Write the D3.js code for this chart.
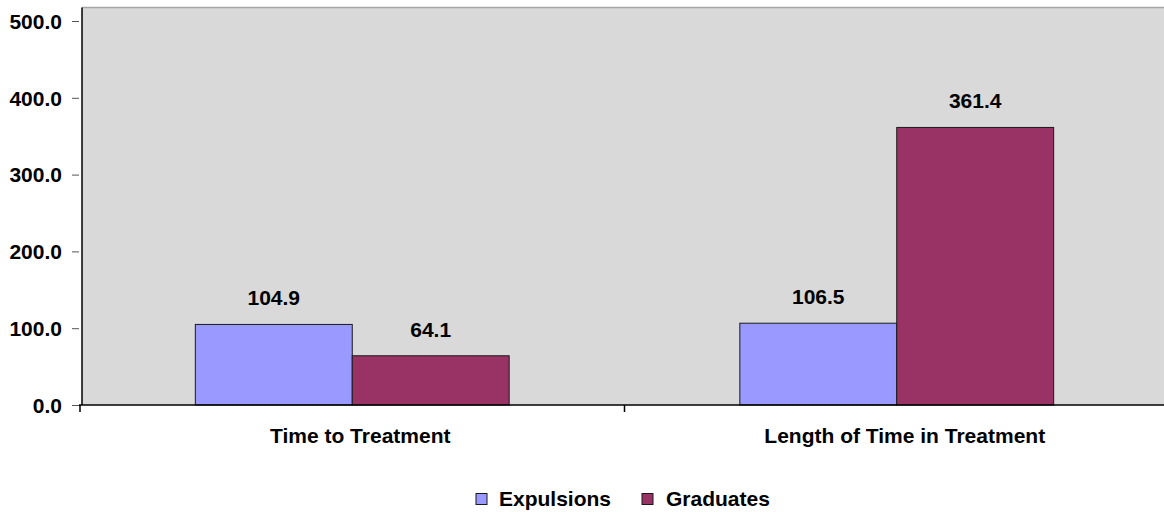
<!DOCTYPE html>
<html>
<head>
<meta charset="utf-8">
<script src="https://cdn.jsdelivr.net/npm/d3@7"></script>
<style>
  html, body { margin: 0; padding: 0; background: #fff; }
  svg { display: block; }
  text { font-family: Arial, "Liberation Sans", sans-serif; font-weight: bold; fill: #000; }
</style>
</head>
<body>
<svg id="chart" width="1164" height="512"></svg>
<script>
const categories = ["Time to Treatment", "Length of Time in Treatment"];
const seriesNames = ["Expulsions", "Graduates"];
const expulsions = [104.9, 106.5];
const graduates = [64.1, 361.4];
const yTicks = [0, 100, 200, 300, 400, 500];
const colors = ["#9999FF", "#993366"];

const data = categories.map((c, i) => ({
  category: c,
  values: [
    { series: seriesNames[0], value: expulsions[i] },
    { series: seriesNames[1], value: graduates[i] }
  ]
}));

const svg = d3.select("#chart");
const W = 1164, H = 512;
const plotLeft = 82, plotTop = 7.5, axisBottom = 405;
const fontSize = 21;

const x = d3.scaleBand().domain(categories).range([80, 1169]).paddingInner(0).paddingOuter(0);
const xs = d3.scaleBand().domain(seriesNames).range([0, x.bandwidth()]).paddingInner(0).paddingOuter(0.735);
const y = d3.scaleLinear().domain([0, 500]).range([axisBottom, 21]);
const color = d3.scaleOrdinal().domain(seriesNames).range(colors);

// plot background
svg.append("rect")
  .attr("x", plotLeft).attr("y", plotTop)
  .attr("width", W - plotLeft + 10).attr("height", axisBottom - plotTop)
  .attr("fill", "#D9D9D9");
svg.append("line")
  .attr("x1", plotLeft).attr("x2", W).attr("y1", plotTop).attr("y2", plotTop)
  .attr("stroke", "#A6A6A6").attr("stroke-width", 1.5);

// bars
const groups = svg.append("g").selectAll("g").data(data).join("g")
  .attr("transform", d => `translate(${x(d.category)},0)`);

groups.selectAll("rect").data(d => d.values).join("rect")
  .attr("x", d => xs(d.series))
  .attr("y", d => y(d.value))
  .attr("width", xs.bandwidth())
  .attr("height", d => y(0) - y(d.value))
  .attr("fill", d => color(d.series))
  .attr("stroke", "#1a1a1a").attr("stroke-width", 1);

groups.selectAll("text.val").data(d => d.values).join("text")
  .attr("class", "val")
  .attr("x", d => xs(d.series) + xs.bandwidth() / 2)
  .attr("y", d => y(d.value) - 19)
  .attr("text-anchor", "middle")
  .attr("font-size", fontSize)
  .text(d => d.value.toFixed(1));

// y axis
const yAxis = d3.axisLeft(y).tickValues(yTicks).tickSize(7).tickPadding(10)
  .tickFormat(d => d3.format(".1f")(d));
const gy = svg.append("g").attr("transform", "translate(79,0)").call(yAxis);
gy.select(".domain").remove();
gy.selectAll(".tick line").attr("stroke", "#555");
gy.selectAll(".tick text").attr("font-size", fontSize).attr("dy", "0.35em")
  .style("font-family", "Arial, 'Liberation Sans', sans-serif").style("font-weight", "bold").attr("fill", "#000");

// left border of the plot area
svg.append("line")
  .attr("x1", plotLeft).attr("x2", plotLeft).attr("y1", plotTop).attr("y2", axisBottom)
  .attr("stroke", "#000").attr("stroke-width", 1.5);

// x axis line and category separators
svg.append("line")
  .attr("x1", 79).attr("x2", W).attr("y1", axisBottom).attr("y2", axisBottom)
  .attr("stroke", "#000").attr("stroke-width", 1.5);
const sepX = [x.range()[0]].concat(categories.map(c => x(c) + x.bandwidth()));
svg.append("g").selectAll("line").data(sepX).join("line")
  .attr("x1", d => Math.max(d, 79)).attr("x2", d => Math.max(d, 79))
  .attr("y1", axisBottom).attr("y2", axisBottom + 7)
  .attr("stroke", "#000").attr("stroke-width", 1.5);

svg.append("g").selectAll("text").data(categories).join("text")
  .attr("x", d => x(d) + x.bandwidth() / 2 + 8)
  .attr("y", 443)
  .attr("text-anchor", "middle")
  .attr("font-size", fontSize)
  .text(d => d);

// legend
const legendItems = [
  { name: seriesNames[0], sx: 476, tx: 499 },
  { name: seriesNames[1], sx: 642, tx: 666 }
];
const lg = svg.append("g").selectAll("g").data(legendItems).join("g");
lg.append("rect")
  .attr("x", d => d.sx).attr("y", 493.5).attr("width", 11).attr("height", 11)
  .attr("fill", d => color(d.name)).attr("stroke", "#1a1a1a").attr("stroke-width", 1);
lg.append("text")
  .attr("x", d => d.tx).attr("y", 506)
  .attr("font-size", fontSize)
  .text(d => d.name);
</script>
</body>
</html>
